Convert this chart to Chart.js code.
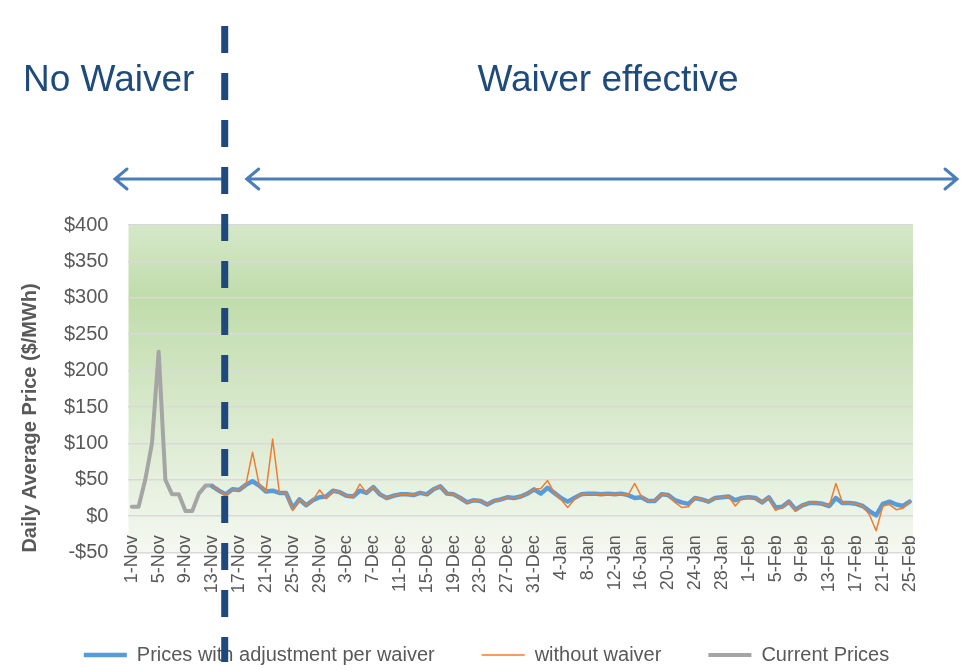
<!DOCTYPE html>
<html lang="en">
<head>
    <meta charset="UTF-8">
    <title>Daily Average Price</title>
    <style>
        body {
            margin: 0;
            background: #ffffff;
        }

        .chart-container {
            width: 967px;
            height: 670px;
        }
    </style>
</head>
<body>
    <div class="chart-container">
        <canvas id="priceChart" width="967" height="670"></canvas>
    </div>

    <script src="https://cdn.jsdelivr.net/npm/chart.js"></script>
    <script>
        // Categories: one point per day, 1-Nov to 25-Feb
        const months = ['Nov', 'Dec', 'Jan', 'Feb'];
        const daysShown = [30, 31, 31, 25];
        const dayLabels = [];
        months.forEach((m, k) => {
            for (let d = 1; d <= daysShown[k]; d++) dayLabels.push(d + '-' + m);
        });

        // Current Prices, starting at 1-Nov
        const currentPrices = [13, 13, 50, 100, 226, 50, 30, 30, 7, 7, 31, 42, 42];

        // Both waiver series start at 13-Nov (index 12)
        const waiverSeriesStart = 12;
        const pricesWithAdjustment = [
            41, 35, 30, 37, 36, 43, 48, 42, 34, 35,
            32, 32, 11, 23, 15, 22, 26, 27, 35, 33,
            28, 27, 35, 32, 40, 30, 25, 28, 30, 30,
            29, 32, 30, 37, 41, 31, 30, 25, 19, 22,
            21, 16, 21, 23, 26, 25, 27, 31, 37, 31,
            39, 32, 25, 20, 25, 30, 31, 31, 30, 31,
            30, 31, 29, 25, 26, 21, 21, 30, 29, 22,
            19, 17, 25, 23, 20, 25, 26, 27, 22, 25,
            26, 25, 19, 26, 12, 13, 20, 9, 15, 18,
            18, 17, 14, 25, 18, 18, 17, 14, 7, 1,
            17, 20, 16, 14, 20
        ];
        const withoutWaiver = [
            41, 35, 28, 37, 36, 43, 88, 43, 34, 106,
            32, 32, 8, 23, 15, 22, 36, 24, 35, 33,
            28, 27, 44, 32, 40, 30, 25, 28, 30, 30,
            29, 32, 30, 37, 41, 31, 30, 25, 19, 22,
            21, 16, 21, 23, 26, 25, 27, 31, 37, 38,
            49, 32, 23, 12, 23, 30, 31, 31, 30, 31,
            30, 31, 29, 45, 27, 21, 21, 30, 29, 19,
            12, 13, 25, 23, 20, 25, 26, 27, 14, 25,
            26, 25, 19, 26, 8, 12, 20, 7, 15, 18,
            18, 17, 14, 45, 18, 18, 17, 14, 2, -20,
            14, 16, 9, 11, 20
        ];

        // Waiver becomes effective between 14-Nov and 15-Nov
        const waiverIndex = 14;

        function placeSeries(values, start) {
            const out = new Array(dayLabels.length).fill(null);
            values.forEach((v, i) => { out[start + i] = v; });
            return out;
        }

        // Background gradient, waiver divider, arrows and headings
        const slideDecor = {
            id: 'slideDecor',
            afterLayout(chart) {
                // legend sits a little right of centre on the slide
                chart.legend.left += 26;
                chart.legend.right += 26;
            },
            beforeDraw(chart) {
                const { ctx, chartArea: a } = chart;
                const g = ctx.createLinearGradient(0, a.top, 0, a.bottom);
                g.addColorStop(0, '#d5e8c9');
                g.addColorStop(0.22, '#c0dcab');
                g.addColorStop(0.5, '#d3e6c5');
                g.addColorStop(1, '#f4f8f1');
                ctx.save();
                ctx.fillStyle = g;
                ctx.fillRect(a.left, a.top, a.right - a.left, a.bottom - a.top);
                ctx.restore();
            },
            afterDraw(chart) {
                const { ctx } = chart;
                const xs = chart.scales.x;
                const divX = xs.getPixelForValue(waiverIndex) - 1;

                ctx.save();
                // headings
                ctx.fillStyle = '#1f4a7c';
                ctx.font = '37px "Liberation Sans", Arial, sans-serif';
                ctx.textBaseline = 'alphabetic';
                ctx.textAlign = 'left';
                ctx.fillText('No Waiver', 23, 91);
                ctx.textAlign = 'center';
                ctx.fillText('Waiver effective', 608, 91);

                // arrows
                const ay = 179;
                ctx.strokeStyle = '#4a7ebb';
                ctx.lineWidth = 3;
                ctx.lineCap = 'round';
                ctx.beginPath();
                ctx.moveTo(115, ay); ctx.lineTo(divX, ay);
                ctx.moveTo(127, ay - 10); ctx.lineTo(115, ay); ctx.lineTo(127, ay + 10);
                ctx.moveTo(divX + 22, ay); ctx.lineTo(957, ay);
                ctx.moveTo(divX + 34, ay - 10); ctx.lineTo(divX + 22, ay); ctx.lineTo(divX + 34, ay + 10);
                ctx.moveTo(945, ay - 10); ctx.lineTo(957, ay); ctx.lineTo(945, ay + 10);
                ctx.stroke();

                // dashed divider
                ctx.strokeStyle = '#1f497d';
                ctx.lineWidth = 7;
                ctx.lineCap = 'butt';
                ctx.setLineDash([27, 20]);
                ctx.beginPath();
                ctx.moveTo(divX, 26);
                ctx.lineTo(divX, 662);
                ctx.stroke();
                ctx.restore();
            }
        };

        const tickColor = '#595959';

        new Chart(document.getElementById('priceChart'), {
            type: 'line',
            data: {
                labels: dayLabels,
                datasets: [
                    {
                        label: 'Prices with adjustment per waiver',
                        data: placeSeries(pricesWithAdjustment, waiverSeriesStart),
                        borderColor: '#5b9bd5',
                        backgroundColor: '#5b9bd5',
                        borderWidth: 4.5,
                        order: 2
                    },
                    {
                        label: 'without waiver',
                        data: placeSeries(withoutWaiver, waiverSeriesStart),
                        borderColor: '#ed7d31',
                        backgroundColor: '#ed7d31',
                        borderWidth: 1.5,
                        order: 1
                    },
                    {
                        label: 'Current Prices',
                        data: placeSeries(currentPrices, 0),
                        borderColor: '#a5a5a5',
                        backgroundColor: '#a5a5a5',
                        borderWidth: 4,
                        order: 3
                    }
                ]
            },
            options: {
                responsive: false,
                animation: false,
                spanGaps: false,
                elements: {
                    point: { radius: 0 },
                    line: { tension: 0, borderJoinStyle: 'round', borderCapStyle: 'round' }
                },
                layout: {
                    padding: { top: 225, right: 54, left: 8, bottom: -5 }
                },
                scales: {
                    x: {
                        position: { y: 0 },
                        offset: true,
                        grid: { display: false },
                        border: { display: false },
                        ticks: {
                            autoSkip: false,
                            maxRotation: 90,
                            minRotation: 90,
                            padding: 11,
                            color: tickColor,
                            font: { family: '"Liberation Sans", Arial, sans-serif', size: 18 },
                            callback: function (val, idx) {
                                return idx % 4 === 0 ? this.getLabelForValue(val) : '';
                            }
                        }
                    },
                    y: {
                        min: -50,
                        max: 400,
                        border: { display: false },
                        grid: { color: '#d9d9d9', lineWidth: 1.5, drawTicks: false },
                        ticks: {
                            stepSize: 50,
                            padding: 20,
                            color: tickColor,
                            font: { family: '"Liberation Sans", Arial, sans-serif', size: 20 },
                            callback: v => (v < 0 ? '-$' + (-v) : '$' + v)
                        },
                        title: {
                            display: true,
                            align: 'start',
                            text: 'Daily Average Price ($/MWh)',
                            color: tickColor,
                            padding: { top: 10, bottom: 2 },
                            font: { family: '"Liberation Sans", Arial, sans-serif', size: 20, weight: 'bold' }
                        }
                    }
                },
                plugins: {
                    tooltip: { enabled: false },
                    legend: {
                        position: 'bottom',
                        title: { display: true, text: '', padding: { top: 0, bottom: 31 }, font: { size: 12 } },
                        labels: {
                            usePointStyle: true,
                            pointStyle: 'line',
                            pointStyleWidth: 43,
                            padding: 47,
                            color: tickColor,
                            font: { family: '"Liberation Sans", Arial, sans-serif', size: 20 },
                            sort: (a, b) => a.datasetIndex - b.datasetIndex
                        }
                    }
                }
            },
            plugins: [slideDecor]
        });
    </script>
</body>
</html>
